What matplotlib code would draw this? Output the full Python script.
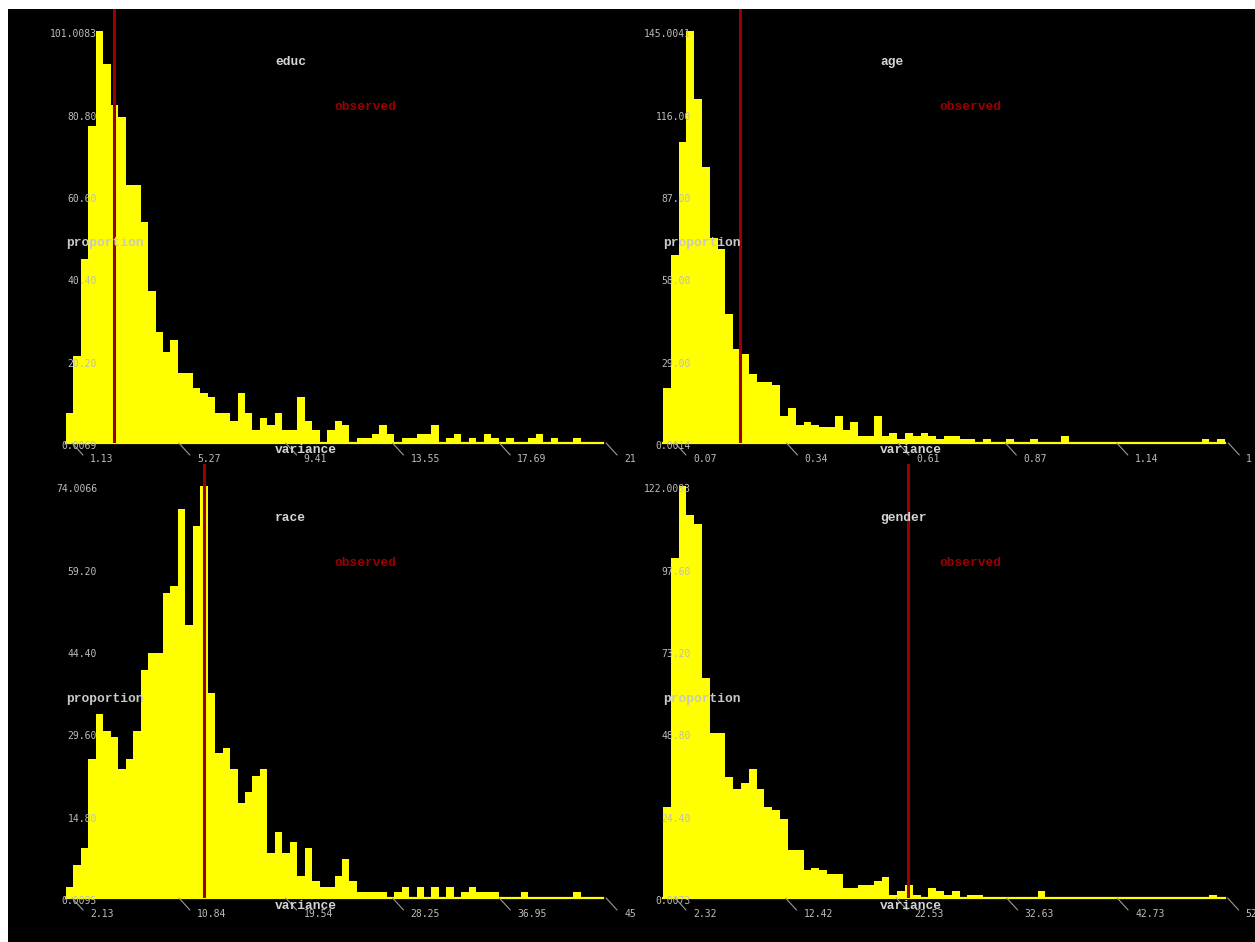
import numpy as np
import matplotlib
matplotlib.use("Agg")
import matplotlib.pyplot as plt
from matplotlib.patches import Rectangle

# histogram heights (72 bins each)
educ_heights = [7.4, 21.3, 45.1, 77.8, 101.0, 93.0, 83.0, 80.1, 63.2, 63.2,
                54.2, 37.4, 27.2, 22.3, 25.2, 17.2, 17.2, 13.5, 12.3, 11.4,
                7.4, 7.4, 5.3, 12.3, 7.4, 3.3, 6.1, 4.3, 7.4, 3.3,
                3.3, 11.4, 5.3, 3.3, 0, 3.3, 5.3, 4.3, 0, 1.3,
                1.3, 2.2, 4.3, 2.2, 0, 1.3, 1.3, 2.2, 2.2, 4.3,
                0, 1.3, 2.2, 0, 1.3, 0, 2.2, 1.3, 0, 1.3,
                0, 0, 1.3, 2.2, 0, 1.3, 0, 0, 1.3, 0,
                0, 0]
age_heights = [19.4, 66.3, 105.9, 145.0, 121.3, 97.2, 72.2, 68.3, 45.4, 33.2,
               31.3, 24.3, 21.4, 21.4, 20.5, 9.4, 12.3, 6.5, 7.3, 6.5,
               5.6, 5.6, 9.4, 4.5, 7.3, 2.3, 2.3, 9.4, 2.3, 3.5,
               1.4, 3.5, 2.3, 3.5, 2.3, 1.4, 2.3, 2.3, 1.4, 1.4,
               0, 1.4, 0, 0, 1.4, 0, 0, 1.4, 0, 0,
               0, 2.3, 0, 0, 0, 0, 0, 0, 0, 0,
               0, 0, 0, 0, 0, 0, 0, 0, 0, 1.4,
               0, 1.4]
race_heights = [2.0, 6.0, 9.0, 25.0, 33.0, 30.0, 29.0, 23.1, 25.0, 30.0,
                41.0, 44.0, 44.0, 54.9, 56.0, 70.0, 49.0, 66.8, 74.0, 36.9,
                26.0, 27.0, 23.1, 17.0, 19.1, 22.0, 23.1, 8.0, 11.9, 8.0,
                10.1, 4.0, 9.0, 3.1, 2.0, 2.0, 4.0, 7.1, 3.1, 1.0,
                1.0, 1.0, 1.0, 0, 1.0, 2.0, 0, 2.0, 0, 2.0,
                0, 2.0, 0, 1.0, 2.0, 1.0, 1.0, 1.0, 0, 0,
                0, 1.0, 0, 0, 0, 0, 0, 0, 1.0, 0,
                0, 0]
gender_heights = [26.9, 100.8, 122.0, 113.6, 110.9, 65.1, 48.8, 48.8, 35.9, 32.2,
                  34.0, 38.1, 32.2, 26.9, 26.0, 23.3, 14.1, 14.1, 8.3, 9.0,
                  8.3, 7.2, 7.2, 3.1, 3.1, 4.0, 4.0, 5.0, 6.2, 1.0,
                  2.0, 4.0, 1.0, 0, 3.1, 2.0, 1.0, 2.0, 0, 1.0,
                  1.0, 0, 0, 0, 0, 0, 0, 0, 2.0, 0,
                  0, 0, 0, 0, 0, 0, 0, 0, 0, 0,
                  0, 0, 0, 0, 0, 0, 0, 0, 0, 0,
                  1.0, 0]

# variance range covered by the bins
educ_range = (0.897, 21.71)
age_range = (0.041, 1.402)
race_range = (1.64, 45.40)
gender_range = (1.22, 52.59)

observed = {"educ": 2.76, "age": 0.227, "race": 12.89, "gender": 23.61}

educ_xticks = [1.13, 5.27, 9.41, 13.55, 17.69, 21.83]
educ_xlabels = ["1.13", "5.27", "9.41", "13.55", "17.69", "21"]
age_xticks = [0.07, 0.34, 0.61, 0.87, 1.14, 1.41]
age_xlabels = ["0.07", "0.34", "0.61", "0.87", "1.14", "1"]
race_xticks = [2.13, 10.84, 19.54, 28.25, 36.95, 45.65]
race_xlabels = ["2.13", "10.84", "19.54", "28.25", "36.95", "45"]
gender_xticks = [2.32, 12.42, 22.53, 32.63, 42.73, 52.83]
gender_xlabels = ["2.32", "12.42", "22.53", "32.63", "42.73", "52"]

educ_ylabels = ["0.0069", "20.20", "40.40", "60.60", "80.80", "101.0083"]
age_ylabels = ["0.0014", "29.00", "58.00", "87.00", "116.00", "145.0041"]
race_ylabels = ["0.0095", "14.80", "29.60", "44.40", "59.20", "74.0066"]
gender_ylabels = ["0.0073", "24.40", "48.80", "73.20", "97.60", "122.0083"]

W, H = 1255, 942
YELLOW = "#ffff00"
DARKRED = "#990000"
LIGHT = "#d4d4d4"
TICKC = "#bdbdbd"

fig = plt.figure(figsize=(W / 100, H / 100), dpi=100, facecolor="white")
fig.patches.append(Rectangle((8 / W, 0), 1, (H - 9) / H, transform=fig.transFigure,
                             facecolor="black", edgecolor="none", zorder=-10))


def fig_text(x, y, s, **kw):
    fig.text(x / W, 1 - y / H, s, **kw)


def panel(name, heights, xrange_, xticks, xlabels, ylabels, left, right, top, base, lab_dx, tx, dy):
    ax = fig.add_axes([left / W, 1 - base / H, (right - left) / W, (base - top) / H])
    ax.set_facecolor("black")
    for s in ax.spines.values():
        s.set_visible(False)
    ax.set_xticks([])
    ax.set_yticks([])

    edges = np.linspace(xrange_[0], xrange_[1], len(heights) + 1)
    ax.stairs(heights, edges, fill=True, color=YELLOW, zorder=1)
    ax.axhline(0, color=YELLOW, lw=1.6, clip_on=False, zorder=1)
    ax.set_xlim(xrange_)
    ymax = float(ylabels[-1])
    ax.set_ylim(0, ymax * (base - top) / (base - top - 22.3))
    ax.axvline(observed[name], color=DARKRED, lw=2.2, zorder=2)

    for t, lab in zip(xticks, xlabels):
        ax.annotate("", xy=(t, 0), xycoords=("data", "axes fraction"),
                    xytext=(11, -12), textcoords="offset pixels", annotation_clip=False,
                    arrowprops=dict(arrowstyle="-", color="#9a9a9a", lw=0.8,
                                    shrinkA=0, shrinkB=0))
        ax.annotate(lab, xy=(t, 0), xycoords=("data", "axes fraction"),
                    xytext=(18, -16), textcoords="offset pixels", annotation_clip=False,
                    ha="left", va="center", color=TICKC, fontsize=7,
                    family="DejaVu Sans Mono")

    for v, lab in zip(np.linspace(0, ymax, len(ylabels)), ylabels):
        ax.annotate(lab, xy=(0, v), xycoords=("axes fraction", "data"),
                    xytext=(lab_dx, -3), textcoords="offset pixels", annotation_clip=False,
                    ha="right", va="center", color=TICKC, fontsize=7,
                    family="DejaVu Sans Mono", zorder=5)

    font = dict(family="Liberation Mono", weight="bold", fontsize=9.3, va="center", ha="left")
    fig_text(tx, 62 + dy, name, color=LIGHT, **font)
    fig_text(tx + 59, 107 + dy, "observed", color=DARKRED, **font)
    fig_text(left, 243 + dy, "proportion", color="#c8c8c8", **font)
    fig_text(tx, 450 + dy, "variance", color=LIGHT, **font)


panel("educ", educ_heights, educ_range, educ_xticks, educ_xlabels, educ_ylabels,
      66, 603, 9, 443, 31, 275, 0)
panel("age", age_heights, age_range, age_xticks, age_xlabels, age_ylabels,
      663, 1225, 9, 443, 28, 880, 0)
panel("race", race_heights, race_range, race_xticks, race_xlabels, race_ylabels,
      66, 603, 464, 898, 31, 275, 456)
panel("gender", gender_heights, gender_range, gender_xticks, gender_xlabels, gender_ylabels,
      663, 1225, 464, 898, 28, 880, 456)

fig.savefig("out.png", dpi=100, facecolor="white")
